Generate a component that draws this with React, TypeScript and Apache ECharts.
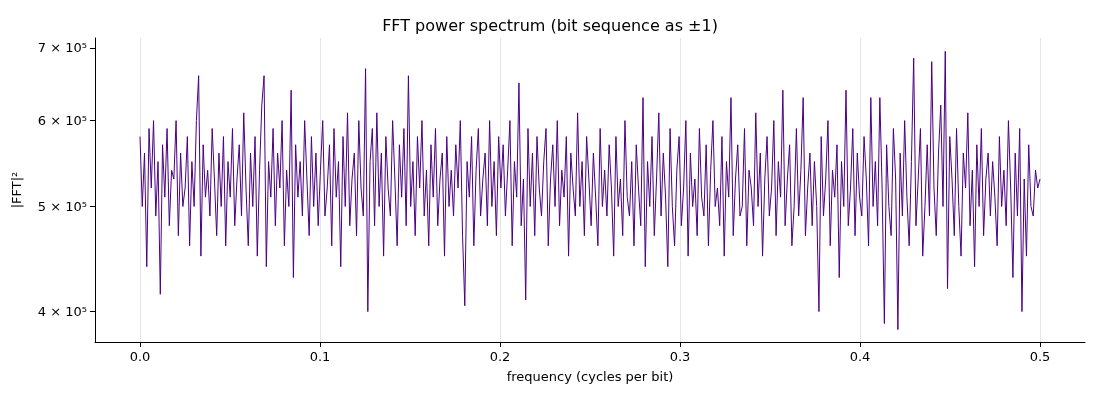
import React, { useEffect, useRef } from 'react';
import * as echarts from 'echarts';

// power values in units of 1e5, evenly spaced from 0 to 0.5 cycles per bit
const power = [
  5.8,5.0,5.6,4.4,5.9,5.2,6.0,4.9,5.5,4.15,5.7,5.1,5.9,4.8,5.4,5.3,6.0,4.7,5.6,5.0,
  5.2,5.8,4.6,5.5,5.0,6.0,6.6,4.5,5.7,5.1,5.4,4.9,5.9,5.3,4.7,5.6,5.0,5.8,4.6,5.5,
  5.1,5.9,4.8,5.3,5.7,4.9,6.1,5.2,4.6,5.6,5.0,5.8,4.5,5.4,6.2,6.6,4.4,5.5,5.1,5.9,
  4.8,5.6,5.2,6.0,4.6,5.4,5.0,6.4,4.3,5.7,5.1,5.5,4.9,6.0,5.3,4.7,5.8,5.0,5.6,4.8,
  5.4,6.0,4.9,5.2,5.7,4.6,5.9,5.1,5.5,4.4,5.8,5.0,6.1,4.8,5.3,5.6,4.7,6.0,5.2,4.9,
  6.7,4.0,5.5,5.9,4.8,6.1,5.0,5.6,4.5,5.8,5.2,4.9,6.0,5.3,4.6,5.7,5.1,5.9,4.8,6.6,
  5.0,5.5,4.7,5.8,5.2,6.0,4.9,5.4,4.6,5.7,5.1,5.9,4.8,5.3,5.6,4.5,5.8,5.0,5.4,4.9,
  5.7,5.2,6.0,4.7,4.05,5.5,5.1,5.8,4.6,5.4,5.9,4.9,5.3,5.6,4.8,6.0,5.0,5.5,4.7,5.8,
  5.2,5.7,4.9,5.4,6.0,4.6,5.5,5.1,6.5,4.8,5.3,4.1,5.9,5.0,5.6,4.7,5.8,5.2,4.9,5.5,
  5.9,4.6,5.3,5.7,5.0,6.0,4.8,5.4,5.1,5.8,4.5,5.6,5.2,4.9,6.1,5.0,5.5,4.7,5.8,5.3,
  4.8,5.6,5.1,4.6,5.9,5.0,5.4,4.9,5.7,5.2,4.5,5.8,5.0,5.3,4.7,6.0,5.1,4.9,5.5,4.6,
  5.7,5.2,4.8,6.3,4.4,5.5,5.0,5.8,4.7,5.3,6.1,4.9,5.6,5.1,4.4,5.9,5.0,4.6,5.4,5.8,
  4.8,5.2,6.0,4.5,5.6,5.0,5.3,4.7,5.9,5.1,4.9,5.7,4.6,5.4,6.0,5.0,5.2,4.8,5.8,4.5,
  5.5,5.1,6.3,4.7,5.3,5.7,4.9,5.0,5.9,4.6,5.4,5.2,4.8,6.1,5.0,5.6,4.5,5.3,5.8,4.9,
  5.2,6.0,4.7,5.5,5.1,6.4,4.8,5.3,5.7,4.6,5.0,5.9,4.9,5.4,6.3,4.7,5.2,5.6,4.8,5.5,
  5.0,4.0,5.8,4.9,5.3,6.0,4.6,5.4,5.1,5.7,4.3,5.5,5.0,6.4,4.8,5.2,5.9,4.7,5.6,5.1,
  4.9,5.8,5.3,4.6,6.3,5.0,5.5,4.8,6.3,5.2,3.9,5.7,5.0,4.7,5.9,5.3,3.85,5.6,4.9,6.0,
  5.1,4.6,5.5,6.85,4.8,5.3,5.9,4.5,5.0,5.7,4.9,6.8,5.2,4.7,5.6,6.2,5.0,6.95,4.2,5.8,
  5.3,4.7,5.9,5.0,4.5,5.6,5.2,6.1,4.8,5.4,4.4,5.7,5.0,5.9,4.7,5.3,5.6,4.9,5.5,5.1,
  4.6,5.8,5.0,5.4,4.8,6.0,5.2,4.3,5.6,4.9,5.9,4.0,5.3,4.5,5.7,5.0,4.9,5.4,5.2,5.3,
];
const xTicks = [0, 0.1, 0.2, 0.3, 0.4, 0.5];
const yTicks = [4, 5, 6, 7]; // x 1e5

const App = () => {
  const chartRef = useRef(null);

  useEffect(() => {
    const chart = echarts.init(chartRef.current, null, { renderer: 'svg' });
    const n = power.length;
    // log-scale plotted as log10 of the value
    const data = power.map((v, i) => [(i / (n - 1)) * 0.5, Math.log10(v * 1e5)]);
    const yTickPos = yTicks.map((t) => Math.log10(t * 1e5));

    chart.setOption({
      animation: false,
      title: {
        text: 'FFT power spectrum (bit sequence as ±1)',
        left: 'center',
        top: 12,
        textStyle: { fontSize: 16, fontWeight: 'normal', color: '#000', fontFamily: 'DejaVu Sans' },
      },
      grid: { left: 95, right: 15, top: 38, bottom: 58 },
      xAxis: {
        type: 'value',
        min: -0.025,
        max: 0.525,
        name: 'frequency (cycles per bit)',
        nameLocation: 'middle',
        nameGap: 28,
        nameTextStyle: { fontSize: 13, color: '#000', fontFamily: 'DejaVu Sans' },
        axisLine: { onZero: false, lineStyle: { color: '#000' } },
        axisTick: { show: true, customValues: xTicks, lineStyle: { color: '#000' } },
        axisLabel: {
          customValues: xTicks,
          formatter: (v) => v.toFixed(1),
          color: '#000',
          fontSize: 13,
          fontFamily: 'DejaVu Sans',
        },
        splitLine: { show: true, lineStyle: { color: '#e5e5e5' } },
      },
      yAxis: {
        type: 'value',
        min: Math.log10(3.75e5),
        max: Math.log10(7.15e5),
        name: '|FFT|²',
        nameLocation: 'middle',
        nameGap: 72,
        nameTextStyle: { fontSize: 13, color: '#000', fontFamily: 'DejaVu Sans' },
        axisLine: { show: true, onZero: false, lineStyle: { color: '#000' } },
        axisTick: { show: true, customValues: yTickPos, lineStyle: { color: '#000' } },
        axisLabel: {
          customValues: yTickPos,
          formatter: (v) => Math.round(Math.pow(10, v) / 1e5) + ' × 10⁵',
          color: '#000',
          fontSize: 13,
          fontFamily: 'DejaVu Sans',
        },
        splitLine: { show: false },
      },
      series: [
        {
          type: 'line',
          data,
          showSymbol: false,
          lineStyle: { color: '#4b0082', width: 1 },
        },
      ],
    });

    return () => chart.dispose();
  }, []);

  return <div ref={chartRef} style={{ position: 'fixed', left: 0, top: 0, width: 1100, height: 400 }} />;
};

export default App;
